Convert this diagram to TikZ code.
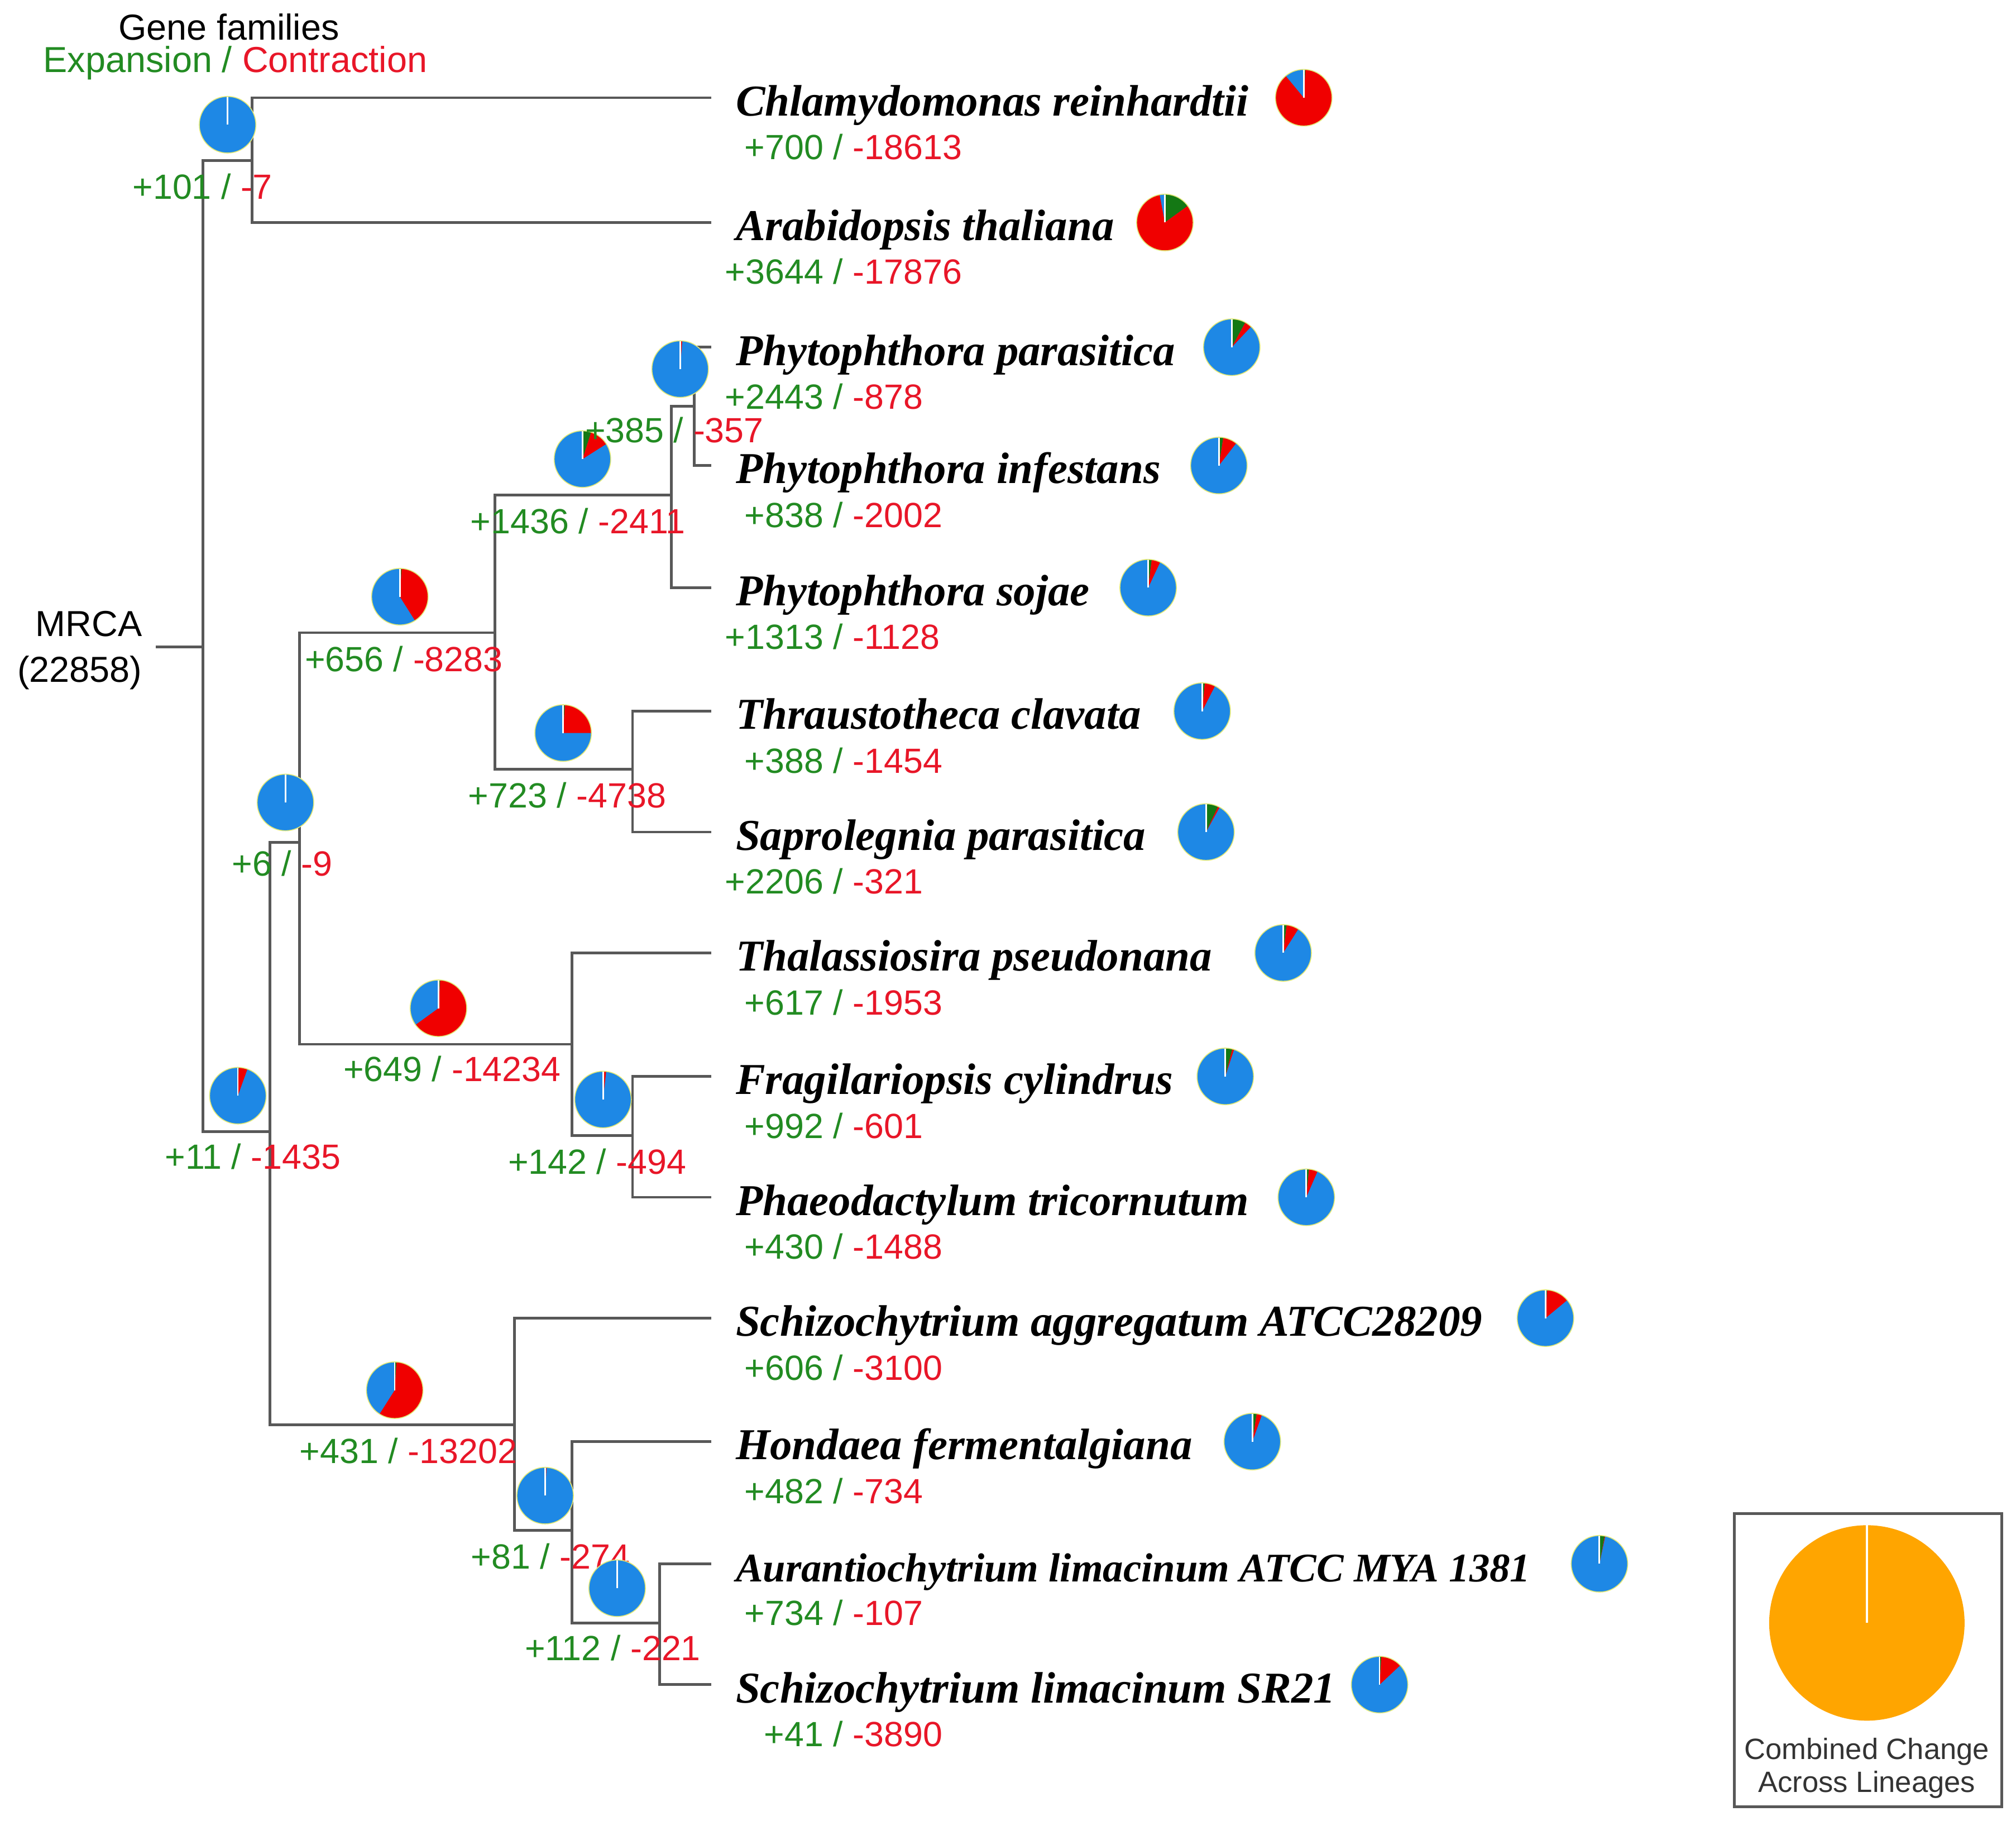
\documentclass[tikz,border=0pt]{standalone}
\usepackage{fontspec}
\setmainfont{Liberation Sans}
\newfontfamily\spfont{Liberation Serif}
\definecolor{brgray}{RGB}{88,88,88}
\definecolor{cntgreen}{RGB}{34,139,34}
\definecolor{cntred}{RGB}{232,22,40}
\definecolor{pieblue}{RGB}{30,136,229}
\definecolor{piered}{RGB}{240,0,0}
\definecolor{piegreen}{RGB}{20,120,20}
\definecolor{pierim}{RGB}{225,232,120}
\definecolor{pieorange}{RGB}{255,165,0}
\tikzset{
  branch/.style={draw=brgray,line width=1.2pt,line cap=rect},
  spname/.style={anchor=base west,inner sep=0pt,font=\spfont\bfseries\itshape\fontsize{19.5pt}{22pt}\selectfont},
  gaincnt/.style={anchor=base east,inner sep=0pt,text=cntgreen,font=\fontsize{15.5pt}{18pt}\selectfont},
  losscnt/.style={anchor=base west,inner sep=0pt,text=cntred,font=\fontsize{15.5pt}{18pt}\selectfont},
  headtext/.style={inner sep=0pt,font=\fontsize{16pt}{19pt}\selectfont},
}
% pie: x, y, green part, red part (clockwise from top)
\newcommand{\genepie}[4]{%
  \fill[pieblue] (#1,#2) circle (0.44cm);
  \fill[piegreen] (#1,#2) -- ++(90:0.44cm) arc[start angle=90,delta angle={-360*#3},radius=0.44cm] -- cycle;
  \fill[piered] (#1,#2) -- ++({90-360*#3}:0.44cm) arc[start angle={90-360*#3},delta angle={-360*#4},radius=0.44cm] -- cycle;
  \draw[white,line width=0.7pt] (#1,#2) -- ++(90:0.44cm);
  \draw[pierim,line width=0.4pt] (#1,#2) circle (0.44cm);
}
\begin{document}
\begin{tikzpicture}[x=0.02cm,y=-0.02cm]
	\useasboundingbox (0,0) rectangle (1568,1416);
	\node[headtext] (gf) at (178,21) {Gene families};
	\node[headtext] (ec) at (183,49) {\textcolor{cntgreen}{Expansion /} \textcolor{cntred}{Contraction}};
	\node[headtext] (mrca) at (69,485) {MRCA};
	\node[headtext] (mrcanum) at (62,523) {(22858)};
	% tree nodes
	\coordinate (mrcaend) at (122,503);
	\coordinate (root) at (158,503);
	\coordinate (nA) at (196,125);
	\coordinate (nB) at (210,880);
	\coordinate (nC) at (233,655);
	\coordinate (nD) at (385,492);
	\coordinate (nE) at (522,385);
	\coordinate (nF) at (540,316);
	\coordinate (nG) at (492,598);
	\coordinate (nH) at (445,812);
	\coordinate (nI) at (492,883);
	\coordinate (nK) at (400,1108);
	\coordinate (nL) at (445,1190);
	\coordinate (nM) at (513,1262);
	% leaves
	\foreach \n/\y/\spn/\p/\m/\px/\g/\r in {
		chl/76/{Chlamydomonas reinhardtii}/700/18613/1014/0.01/0.88,
		ara/173/{Arabidopsis thaliana}/3644/17876/906/0.15/0.82,
		par/270/{Phytophthora parasitica}/2443/878/958/0.08/0.04,
		inf/362/{Phytophthora infestans}/838/2002/948/0.025/0.08,
		soj/457/{Phytophthora sojae}/1313/1128/893/0.02/0.05,
		thr/553/{Thraustotheca clavata}/388/1454/935/0.015/0.06,
		sap/647/{Saprolegnia parasitica}/2206/321/938/0.07/0.01,
		tha/741/{Thalassiosira pseudonana}/617/1953/998/0.02/0.07,
		fra/837/{Fragilariopsis cylindrus}/992/601/953/0.04/0.01,
		pha/931/{Phaeodactylum tricornutum}/430/1488/1016/0.015/0.05,
		sag/1025/{Schizochytrium aggregatum ATCC28209}/606/3100/1202/0.01/0.13,
		hon/1121/{Hondaea fermentalgiana}/482/734/974/0.025/0.03,
		aur/1216/{{\fontsize{18pt}{22pt}\selectfont Aurantiochytrium limacinum ATCC MYA 1381}}/734/107/1244/0.03/0.003,
		sli/1310/{Schizochytrium limacinum SR21}/41/3890/1073/0.01/0.12}
	{
		\coordinate (\n) at (552,\y);
		\node[spname] (\n-name) at (572,\y+14) {\spn};
		\node[gaincnt] (\n-gain) at (656,\y+48) {+\p\ /};
		\node[losscnt] (\n-loss) at (663,\y+48) {-\m};
		\genepie{\px}{\y}{\g}{\r}
	}
	% branches
	\draw[branch] (mrcaend) -- (root);
	\foreach \a/\b in {root/nA,root/nB,nA/chl,nA/ara,nB/nC,nB/nK,nC/nD,nC/nH,
		nD/nE,nD/nG,nE/nF,nE/soj,nF/par,nF/inf,nG/thr,nG/sap,nH/tha,nH/nI,
		nI/fra,nI/pha,nK/sag,nK/nL,nL/hon,nL/nM,nM/aur,nM/sli}
		\draw[branch] (\a) |- (\b);
	% inner node pies and counts
	\foreach \n/\px/\py/\sx/\ly/\p/\m/\g/\r in {
		nA/177/97/176/145/101/7/0.002/0.002,
		nB/185/852/184/899/11/1435/0.005/0.05,
		nC/222/624/223/671/6/9/0.002/0.002,
		nD/311/464/310/512/656/8283/0.01/0.40,
		nE/453/357/454/405/1436/2411/0.05/0.11,
		nF/529/287/528/334/385/357/0.006/0.006,
		nG/438/570/437/618/723/4738/0.01/0.24,
		nH/341/784/340/831/649/14234/0.01/0.64,
		nI/469/855/468/903/142/494/0.003/0.015,
		nK/307/1081/306/1128/431/13202/0.01/0.58,
		nL/424/1163/424/1210/81/274/0.003/0.005,
		nM/480/1235/479/1281/112/221/0.002/0.002}
	{
		\genepie{\px}{\py}{\g}{\r}
		\node[gaincnt] (\n-gain) at (\sx+4,\ly+10) {+\p\ /};
		\node[losscnt] (\n-loss) at (\sx+11,\ly+10) {-\m};
	}
	% legend
	\draw[brgray,line width=1.2pt] (1349,1177) rectangle (1557,1405);
	\fill[pieorange] (1452,1262) circle (1.52cm);
	\draw[white,line width=1pt] (1452,1262) -- ++(90:1.52cm);
	\node[headtext,align=center,text=black!80,font=\fontsize{13pt}{14.5pt}\selectfont] (legtxt) at (1452,1375) {Combined Change\\Across Lineages};
\end{tikzpicture}
\end{document}
